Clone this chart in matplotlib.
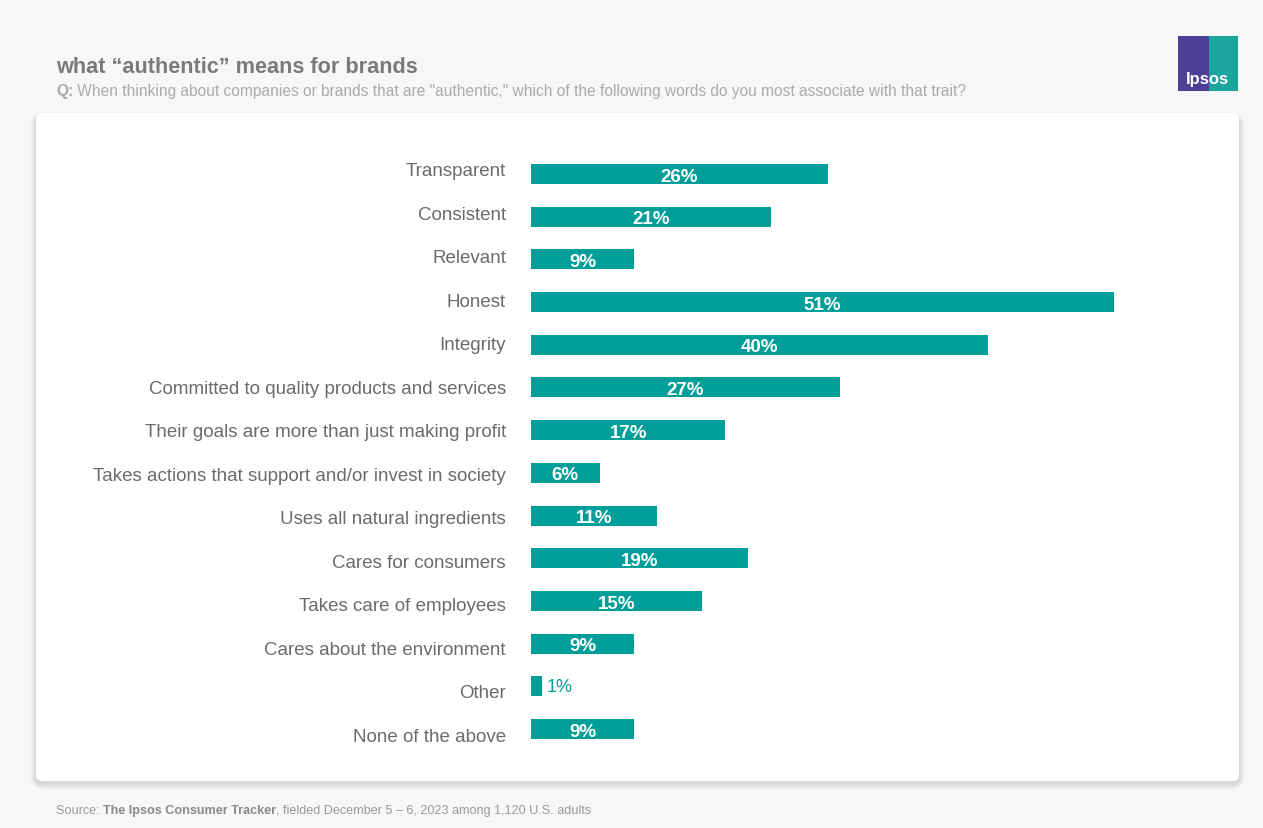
import matplotlib
matplotlib.use("Agg")
import matplotlib.pyplot as plt
from matplotlib.patches import FancyBboxPatch, Rectangle

plt.rcParams["font.family"] = ["Liberation Sans", "DejaVu Sans"]

categories = ["Transparent", "Consistent", "Relevant", "Honest", "Integrity",
              "Committed to quality products and services",
              "Their goals are more than just making profit",
              "Takes actions that support and/or invest in society",
              "Uses all natural ingredients", "Cares for consumers",
              "Takes care of employees", "Cares about the environment",
              "Other", "None of the above"]
values = [26, 21, 9, 51, 40, 27, 17, 6, 11, 19, 15, 9, 1, 9]

teal = "#009e99"
W, H = 1263, 829

fig = plt.figure(figsize=(W / 100, H / 100), dpi=100)
fig.patch.set_facecolor("#f7f7f7")

# background layer in pixel coords
bg = fig.add_axes([0, 0, 1, 1])
bg.set_xlim(0, W)
bg.set_ylim(H, 0)
bg.axis("off")

# soft card shadow + card
for s in range(10, 0, -1):
    bg.add_patch(FancyBboxPatch((36 - s * 0.6, 114 - s * 0.4 + 3), 1203 + 1.2 * s, 668 + s,
                                boxstyle="round,pad=0,rounding_size=%d" % (6 + s),
                                fc="black", ec="none", alpha=0.012))
bg.add_patch(FancyBboxPatch((36, 114), 1203, 668, boxstyle="round,pad=0,rounding_size=6",
                            fc="white", ec="none"))

# title and subtitle
bg.text(56, 73, "what \u201cauthentic\u201d means for brands", fontsize=15.6, fontweight="bold",
        color="#7a7a7a", va="baseline")
q = bg.text(56, 96, "Q:", fontsize=11.2, fontweight="bold", color="#ababab", va="baseline")
bg.annotate(" When thinking about companies or brands that are \"authentic,\" which of the "
            "following words do you most associate with that trait?",
            xy=(1, 0), xycoords=q, fontsize=11.2, color="#ababab", va="bottom", ha="left")

# source
s1 = bg.text(56, 814, "Source: ", fontsize=9.1, color="#9a9a9a", va="baseline")
s2 = bg.annotate("The Ipsos Consumer Tracker", xy=(1, 0), xycoords=s1, fontsize=9.1,
                 fontweight="bold", color="#8a8a8a", va="bottom", ha="left")
bg.annotate(", fielded December 5 \u2013 6, 2023 among 1,120 U.S. adults", xy=(1, 0),
            xycoords=s2, fontsize=9.1, color="#9a9a9a", va="bottom", ha="left")

# logo
bg.add_patch(Rectangle((1178, 37), 31, 55, fc="#4b3f98", ec="none"))
bg.add_patch(Rectangle((1209, 37), 29, 55, fc="#1aa59e", ec="none"))
bg.text(1207, 84, "Ipsos", fontsize=12, fontweight="bold", color="white",
        ha="center", va="baseline")

# bar chart
px = 583 / 51  # pixels per percent
ax_left, ax_right = 531, 1200
step = 555 / 13
top = 175 - step / 2
bottom = 730 + step / 2
ax = fig.add_axes([ax_left / W, 1 - bottom / H, (ax_right - ax_left) / W, (bottom - top) / H])
ax.set_xlim(0, (ax_right - ax_left) / px)
ax.set_ylim(len(categories) - 0.5, -0.5)
ax.patch.set_alpha(0)
for sp in ax.spines.values():
    sp.set_visible(False)
ax.set_xticks([])
ax.set_yticks([])

ypos = list(range(len(categories)))
ax.barh(ypos, values, height=0.47, color=teal)
for y, v in zip(ypos, values):
    if v >= 3:
        ax.text(v / 2, y + 0.05, f"{v}%", ha="center", va="center", fontsize=13.5,
                fontweight="bold", color="white")
    else:
        ax.text(v + 0.35, y, f"{v}%", ha="left", va="center", fontsize=13,
                color=teal)

# category labels sit on a slightly wider spacing than the bars
lstep = 565 / 13
ltop = 170 - lstep / 2
lbottom = 735 + lstep / 2
lax = fig.add_axes([ax_left / W, 1 - lbottom / H, 0.001, (lbottom - ltop) / H])
lax.set_ylim(len(categories) - 0.5, -0.5)
lax.patch.set_alpha(0)
for sp in lax.spines.values():
    sp.set_visible(False)
lax.set_xticks([])
lax.set_yticks(ypos)
lax.set_yticklabels(categories, fontsize=13.5, color="#6b6b6b")
lax.tick_params(axis="y", length=0, pad=18)

fig.savefig("out.png", dpi=100, facecolor=fig.get_facecolor())
